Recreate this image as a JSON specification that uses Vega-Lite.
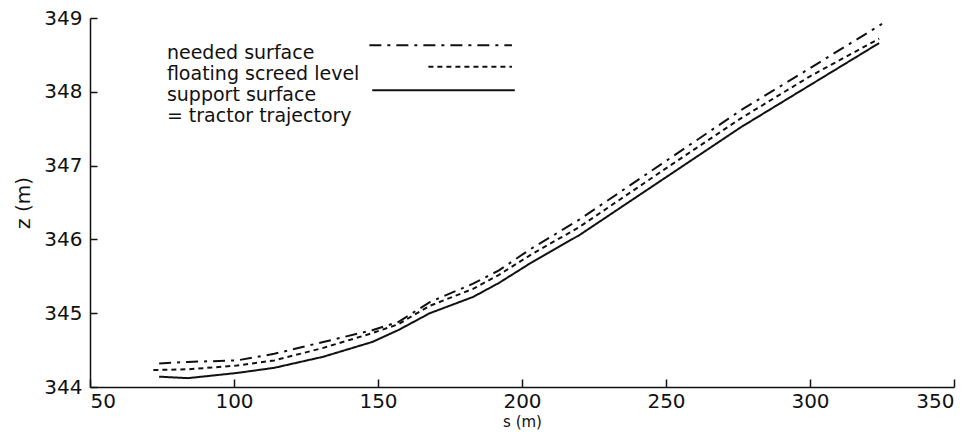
{
  "$schema": "https://vega.github.io/schema/vega-lite/v6.json",
  "width": 864,
  "height": 369,
  "autosize": "none",
  "padding": {"left": 90, "top": 18, "right": 24, "bottom": 45},
  "background": "white",
  "config": {
    "view": {"stroke": null},
    "font": "DejaVu Sans",
    "axis": {
      "grid": false,
      "domainColor": "#111",
      "domainWidth": 1.5,
      "tickColor": "#111",
      "tickWidth": 1.5,
      "labelFont": "DejaVu Sans",
      "labelFontSize": 20,
      "labelColor": "#111",
      "titleFont": "DejaVu Sans",
      "titleFontSize": 20,
      "titleFontWeight": "normal",
      "titleColor": "#111"
    }
  },
  "datasets": {
    "curves": [
      {"s": 74, "z": 344.14, "series": "support"},
      {"s": 84, "z": 344.12, "series": "support"},
      {"s": 101, "z": 344.19, "series": "support"},
      {"s": 114, "z": 344.26, "series": "support"},
      {"s": 131, "z": 344.41, "series": "support"},
      {"s": 148, "z": 344.61, "series": "support"},
      {"s": 157, "z": 344.77, "series": "support"},
      {"s": 168, "z": 345.0, "series": "support"},
      {"s": 183, "z": 345.22, "series": "support"},
      {"s": 192, "z": 345.41, "series": "support"},
      {"s": 203, "z": 345.68, "series": "support"},
      {"s": 220, "z": 346.06, "series": "support"},
      {"s": 248, "z": 346.79, "series": "support"},
      {"s": 276, "z": 347.52, "series": "support"},
      {"s": 300, "z": 348.09, "series": "support"},
      {"s": 324, "z": 348.66, "series": "support"},
      {"s": 72, "z": 344.23, "series": "floating"},
      {"s": 84, "z": 344.24, "series": "floating"},
      {"s": 101, "z": 344.29, "series": "floating"},
      {"s": 114, "z": 344.36, "series": "floating"},
      {"s": 131, "z": 344.53, "series": "floating"},
      {"s": 148, "z": 344.73, "series": "floating"},
      {"s": 157, "z": 344.85, "series": "floating"},
      {"s": 168, "z": 345.1, "series": "floating"},
      {"s": 183, "z": 345.33, "series": "floating"},
      {"s": 192, "z": 345.52, "series": "floating"},
      {"s": 203, "z": 345.79, "series": "floating"},
      {"s": 220, "z": 346.17, "series": "floating"},
      {"s": 248, "z": 346.91, "series": "floating"},
      {"s": 276, "z": 347.64, "series": "floating"},
      {"s": 300, "z": 348.21, "series": "floating"},
      {"s": 324, "z": 348.72, "series": "floating"},
      {"s": 74, "z": 344.32, "series": "needed"},
      {"s": 84, "z": 344.34, "series": "needed"},
      {"s": 101, "z": 344.36, "series": "needed"},
      {"s": 114, "z": 344.45, "series": "needed"},
      {"s": 131, "z": 344.61, "series": "needed"},
      {"s": 148, "z": 344.77, "series": "needed"},
      {"s": 157, "z": 344.88, "series": "needed"},
      {"s": 168, "z": 345.15, "series": "needed"},
      {"s": 183, "z": 345.4, "series": "needed"},
      {"s": 192, "z": 345.58, "series": "needed"},
      {"s": 203, "z": 345.87, "series": "needed"},
      {"s": 220, "z": 346.27, "series": "needed"},
      {"s": 248, "z": 347.01, "series": "needed"},
      {"s": 276, "z": 347.75, "series": "needed"},
      {"s": 300, "z": 348.32, "series": "needed"},
      {"s": 325, "z": 348.92, "series": "needed"}
    ],
    "keys": [
      {"s1": 147, "s2": 196.5, "z": 348.63, "series": "needed"},
      {"s1": 167.5, "s2": 196.5, "z": 348.34, "series": "floating"},
      {"s1": 148, "s2": 197.5, "z": 348.02, "series": "support"}
    ],
    "labels": [
      {"s": 76.7, "z": 348.45, "label": "needed surface"},
      {"s": 76.7, "z": 348.165, "label": "floating screed level"},
      {"s": 76.7, "z": 347.88, "label": "support surface"},
      {"s": 76.7, "z": 347.59, "label": "= tractor trajectory"}
    ]
  },
  "layer": [
    {
      "data": {"name": "curves"},
      "mark": {"type": "line", "color": "#111", "strokeWidth": 2},
      "encoding": {
        "x": {
          "field": "s", "type": "quantitative",
          "scale": {"domain": [50, 350], "nice": false, "zero": false},
          "axis": {
            "title": "s (m)",
            "values": [50, 100, 150, 200, 250, 300, 350],
            "tickSize": -8,
            "labelPadding": 12,
            "titlePadding": 3,
            "titleFontSize": 15
          }
        },
        "y": {
          "field": "z", "type": "quantitative",
          "scale": {"domain": [344, 349], "nice": false, "zero": false},
          "axis": {
            "title": "z (m)",
            "format": "d",
            "values": [344, 345, 346, 347, 348, 349],
            "tickSize": -7,
            "labelPadding": 15,
            "titlePadding": 10
          }
        },
        "detail": {"field": "series"},
        "strokeDash": {
          "field": "series", "type": "nominal",
          "scale": {"domain": ["needed", "floating", "support"], "range": [[12, 6, 3, 6], [5, 4], [1, 0]]},
          "legend": null
        }
      }
    },
    {
      "data": {"name": "keys"},
      "mark": {"type": "rule", "color": "#111", "strokeWidth": 2},
      "encoding": {
        "x": {"field": "s1", "type": "quantitative"},
        "x2": {"field": "s2"},
        "y": {"field": "z", "type": "quantitative"},
        "strokeDash": {"field": "series", "type": "nominal", "legend": null}
      }
    },
    {
      "data": {"name": "labels"},
      "mark": {"type": "text", "align": "left", "baseline": "alphabetic", "font": "DejaVu Sans", "fontSize": 19, "color": "#111"},
      "encoding": {
        "x": {"field": "s", "type": "quantitative"},
        "y": {"field": "z", "type": "quantitative"},
        "text": {"field": "label"}
      }
    }
  ]
}
